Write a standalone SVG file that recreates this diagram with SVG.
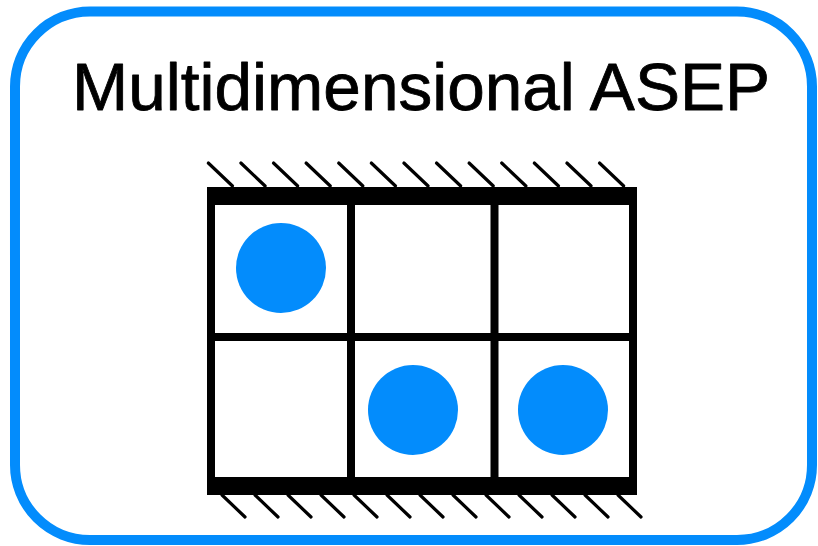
<svg xmlns="http://www.w3.org/2000/svg" width="818" height="546" viewBox="0 0 818 546">
<style>
.frame{fill:#fff;stroke:#038cfc;stroke-width:10}
.title{font-family:"Liberation Sans",Arial,sans-serif;font-size:66px;fill:#000;stroke:#000;stroke-width:0.8;stroke-linejoin:round}
.grid{fill:none;stroke:#000;stroke-width:8}
.bar{fill:#000}
.hatch{stroke:#000;stroke-width:3.2;stroke-linecap:round}
.p{fill:#038cfc}
</style>
<rect width="818" height="546" fill="#fff"/>
<g id="frame"><rect class="frame" x="15" y="11.5" width="797" height="528.5" rx="75" ry="75"/></g>
<g id="title"><text class="title" x="72" y="110" textLength="698" lengthAdjust="spacingAndGlyphs">Multidimensional ASEP</text></g>
<g id="lattice">
<g id="hatch-top">
<line class="hatch" x1="208.3" y1="163" x2="232.5" y2="186"/>
<line class="hatch" x1="240.9" y1="163" x2="265.1" y2="186"/>
<line class="hatch" x1="273.5" y1="163" x2="297.7" y2="186"/>
<line class="hatch" x1="306.1" y1="163" x2="330.3" y2="186"/>
<line class="hatch" x1="338.7" y1="163" x2="362.9" y2="186"/>
<line class="hatch" x1="371.3" y1="163" x2="395.5" y2="186"/>
<line class="hatch" x1="403.9" y1="163" x2="428.1" y2="186"/>
<line class="hatch" x1="436.5" y1="163" x2="460.7" y2="186"/>
<line class="hatch" x1="469.1" y1="163" x2="493.3" y2="186"/>
<line class="hatch" x1="501.7" y1="163" x2="525.9" y2="186"/>
<line class="hatch" x1="534.3" y1="163" x2="558.5" y2="186"/>
<line class="hatch" x1="566.9" y1="163" x2="591.1" y2="186"/>
<line class="hatch" x1="599.5" y1="163" x2="623.7" y2="186"/>
</g>
<g id="hatch-bottom">
<line class="hatch" x1="222" y1="495" x2="245" y2="517"/>
<line class="hatch" x1="255" y1="495" x2="278" y2="517"/>
<line class="hatch" x1="288" y1="495" x2="311" y2="517"/>
<line class="hatch" x1="321" y1="495" x2="344" y2="517"/>
<line class="hatch" x1="354" y1="495" x2="377" y2="517"/>
<line class="hatch" x1="387" y1="495" x2="410" y2="517"/>
<line class="hatch" x1="420" y1="495" x2="443" y2="517"/>
<line class="hatch" x1="453" y1="495" x2="476" y2="517"/>
<line class="hatch" x1="486" y1="495" x2="509" y2="517"/>
<line class="hatch" x1="519" y1="495" x2="542" y2="517"/>
<line class="hatch" x1="552" y1="495" x2="575" y2="517"/>
<line class="hatch" x1="585" y1="495" x2="608" y2="517"/>
<line class="hatch" x1="618" y1="495" x2="641" y2="517"/>
</g>
<rect class="bar" x="207" y="187" width="430" height="18"/>
<rect class="bar" x="207" y="477" width="430" height="18"/>
<path class="grid" d="M211 205V477M351 205V477M494.5 205V477M633 205V477M211 337H633"/>
</g>
<g id="particles">
<circle class="p" cx="281" cy="268" r="45"/>
<circle class="p" cx="413" cy="410" r="45"/>
<circle class="p" cx="563" cy="410" r="45"/>
</g>
</svg>
